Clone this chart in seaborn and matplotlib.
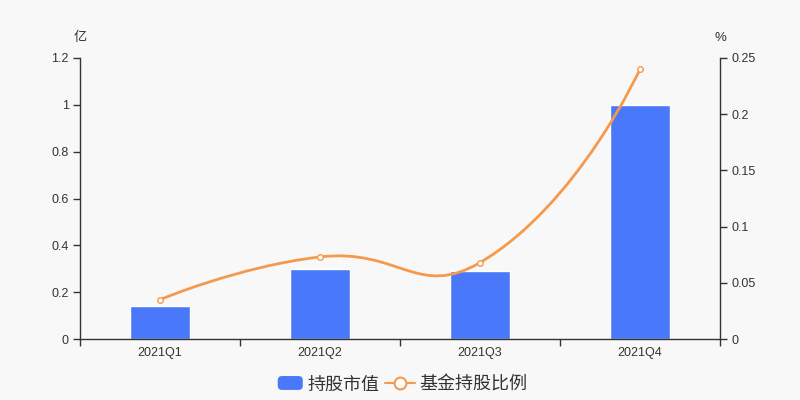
import numpy as np
import pandas as pd
import matplotlib
matplotlib.use("Agg")
import matplotlib.pyplot as plt
import seaborn as sns
from matplotlib.path import Path
from matplotlib.patches import PathPatch, FancyBboxPatch
from matplotlib.lines import Line2D
from matplotlib.legend_handler import HandlerBase

categories = ["2021Q1", "2021Q2", "2021Q3", "2021Q4"]
market_value = [0.14, 0.30, 0.29, 1.00]
fund_ratio = [0.035, 0.073, 0.068, 0.240]
left_ticks = [0, 0.2, 0.4, 0.6, 0.8, 1.0, 1.2]
right_ticks = [0, 0.05, 0.1, 0.15, 0.2, 0.25]

BLUE = "#4a78fa"
ORANGE = "#f59a4c"
BG = "#f8f8f8"
TXT = "#333333"

sns.set_theme(style="white")
plt.rcParams['font.family'] = ['Liberation Sans', 'Noto Sans CJK SC', 'DejaVu Sans']

fig = plt.figure(figsize=(8, 4), dpi=100, facecolor=BG)
ax = fig.add_axes([0.1, 0.1525, 0.8, 0.7025])
ax.set_facecolor(BG)

df = pd.DataFrame({"cat": categories, "val": market_value})
sns.barplot(data=df, x="cat", y="val", color=BLUE, width=0.375, saturation=1, ax=ax)
ax.set_xlim(-0.5, 3.5)
ax.set_ylim(0, 1.2)
ax.set_yticks(left_ticks)
ax.set_yticklabels([f"{t:g}" for t in left_ticks])
ax.set_xlabel("")
ax.set_ylabel("")

ax2 = ax.twinx()
ax2.set_ylim(0, 0.25)
ax2.set_yticks(right_ticks)
ax2.set_yticklabels([f"{t:g}" for t in right_ticks])

# smooth curve (echarts-like bezier), computed in pixel-proportional space
sx, sy = 160.0, 1124.0
pts = [(i * sx, v * sy) for i, v in enumerate(fund_ratio)]
smooth = 0.5
n = len(pts)
cps = []
for i in range(n):
    x, y = pts[i]
    if i == 0 or i == n - 1:
        cps.append(((x, y), (x, y)))
        continue
    px, py = pts[i - 1]
    nx, ny = pts[i + 1]
    vx, vy = nx - px, ny - py
    l0 = np.hypot(x - px, y - py)
    l1 = np.hypot(nx - x, ny - y)
    r = l1 / (l0 + l1)
    cin = (x - vx * smooth * (1 - r), y - vy * smooth * (1 - r))
    cout = (x + vx * smooth * r, y + vy * smooth * r)
    cps.append((cin, cout))
verts = [pts[0]]
codes = [Path.MOVETO]
for i in range(n - 1):
    verts += [cps[i][1], cps[i + 1][0], pts[i + 1]]
    codes += [Path.CURVE4] * 3
verts = [(vx_ / sx, vy_ / sy) for vx_, vy_ in verts]
ax2.add_patch(PathPatch(Path(verts, codes), fill=False, edgecolor=ORANGE, lw=2, zorder=3))
ax2.plot(range(n), fund_ratio, ls="none", marker="o", ms=4, mfc="white", mec=ORANGE, mew=1, zorder=4)

for a in (ax, ax2):
    for s in a.spines.values():
        s.set_visible(False)
    a.grid(False)
ax.spines["left"].set_visible(True)
ax.spines["bottom"].set_visible(True)
ax2.spines["right"].set_visible(True)
for s in (ax.spines["left"], ax.spines["bottom"], ax2.spines["right"]):
    s.set_color(TXT)
    s.set_linewidth(1)

ax.tick_params(axis="y", length=5, width=1, color=TXT, labelcolor=TXT, labelsize=9, pad=3, left=True)
ax2.tick_params(axis="y", length=5, width=1, color=TXT, labelcolor=TXT, labelsize=9, pad=3, right=True)
ax.tick_params(axis="x", which="major", length=0, labelcolor=TXT, labelsize=9, pad=6)
ax.set_xticks([-0.5, 0.5, 1.5, 2.5, 3.5], minor=True)
ax.tick_params(axis="x", which="minor", length=5, width=1, color=TXT, bottom=True)

fig.text(0.1, 0.905, "亿", ha="center", va="center", fontsize=9.5, color=TXT)
fig.text(0.9, 0.905, "%", ha="center", va="center", fontsize=9.5, color=TXT)


class RoundRectHandler(HandlerBase):
    def create_artists(self, legend, orig_handle, xdescent, ydescent, width, height, fontsize, trans):
        w, h = 18.0, 10.0
        x0 = -xdescent + width - w
        y0 = -ydescent + (height - h) / 2
        p = FancyBboxPatch((x0, y0), w, h, boxstyle="round,pad=0,rounding_size=3",
                           facecolor=BLUE, edgecolor="none", transform=trans)
        return [p]


bar_handle = FancyBboxPatch((0, 0), 1, 1, facecolor=BLUE)
line_handle = Line2D([0], [0], color=ORANGE, lw=1.5, marker="o", ms=8.5, mfc="white", mec=ORANGE, mew=1.5)
fig.legend([bar_handle, line_handle], ["持股市值", "基金持股比例"], loc="center",
           bbox_to_anchor=(0.5, 0.038), ncol=2, frameon=False, fontsize=13,
           handlelength=1.66, handletextpad=0.25, columnspacing=0.3,
           labelcolor=TXT, handler_map={FancyBboxPatch: RoundRectHandler()})

fig.savefig("out.png", dpi=100, facecolor=BG)
